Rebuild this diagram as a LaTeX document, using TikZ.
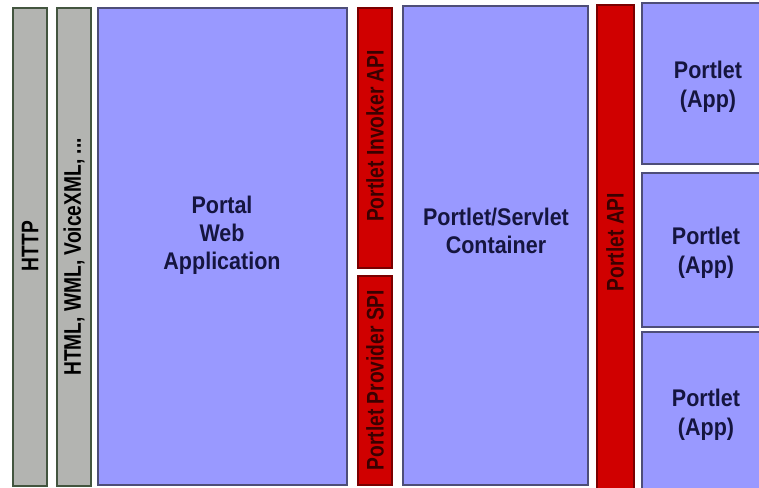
\documentclass[tikz,border=0pt]{standalone}
\usepackage{fontspec}
\setmainfont{Liberation Sans}
\usetikzlibrary{positioning}
\definecolor{boxblue}{HTML}{9999FF}
\definecolor{blueedge}{HTML}{4E4E78}
\definecolor{boxgray}{HTML}{B3B4B1}
\definecolor{grayedge}{HTML}{43553F}
\definecolor{boxred}{HTML}{D00000}
\definecolor{rededge}{HTML}{7A0000}
\definecolor{navytext}{HTML}{15153F}
\definecolor{redtext}{HTML}{3A0000}
\tikzset{
  bluebox/.style={fill=boxblue, draw=blueedge, line width=1.2pt},
  graybox/.style={fill=boxgray, draw=grayedge, line width=1.2pt},
  redbox/.style={fill=boxred, draw=rededge, line width=1.2pt},
  lbl/.style={font=\bfseries\fontsize{21.5}{25}\selectfont, text=navytext, inner sep=0pt},
  applbl/.style={lbl, font=\bfseries\fontsize{21.5}{26.5}\selectfont},
  vlbl/.style={font=\bfseries\fontsize{19.2}{22}\selectfont, rotate=90, inner sep=0pt},
}
\newcommand{\widevtext}[1]{\scalebox{1}[1.25]{#1}}
\newcommand{\tallhtext}[1]{\scalebox{1}[1.12]{\begin{tabular}{@{}c@{}}#1\end{tabular}}}

\begin{document}
\begin{tikzpicture}[x=1pt,y=-1pt]
\useasboundingbox (0,0) rectangle (759,487);
\clip (0,0) rectangle (759,487);
% Protocol and markup columns
\draw[graybox] (13,8) rectangle (47,486);
\draw[graybox] (57,8) rectangle (91,486);
% Portal and container
\draw[bluebox] (98,8) rectangle (347,485);
\draw[bluebox] (403,6) rectangle (588,485);
% API bars
\draw[redbox] (358,8) rectangle (392,268);
\draw[redbox] (358,276) rectangle (392,485);
\draw[redbox] (597,5) rectangle (634,490);
% Portlets
\draw[bluebox] (642,3) rectangle (775,164);
\draw[bluebox] (642,173) rectangle (775,327);
\draw[bluebox] (642,332) rectangle (775,495);
% Add labels
\node[vlbl, text=black] (http) at (30,246) {\widevtext{HTTP}};
\node[vlbl, text=black] (markup) at (74,257) {\widevtext{HTML, WML, VoiceXML, ...}};
\node[lbl] (portal) at (222,236) {\tallhtext{Portal\\Web\\Application}};
\node[vlbl, text=redtext] (invoker) at (375,136) {\widevtext{Portlet Invoker API}};
\node[vlbl, text=redtext] (provider) at (375,380) {\widevtext{Portlet Provider SPI}};
\node[lbl] (container) at (496,234) {\tallhtext{Portlet/Servlet\\Container}};
\node[vlbl, text=redtext] (portletapi) at (615,242) {\widevtext{Portlet API}};
\node[applbl] (app1) at (708,87) {\tallhtext{Portlet\\(App)}};
\node[applbl] (app2) at (706,253) {\tallhtext{Portlet\\(App)}};
\node[applbl] (app3) at (706,415) {\tallhtext{Portlet\\(App)}};
\end{tikzpicture}
\end{document}
